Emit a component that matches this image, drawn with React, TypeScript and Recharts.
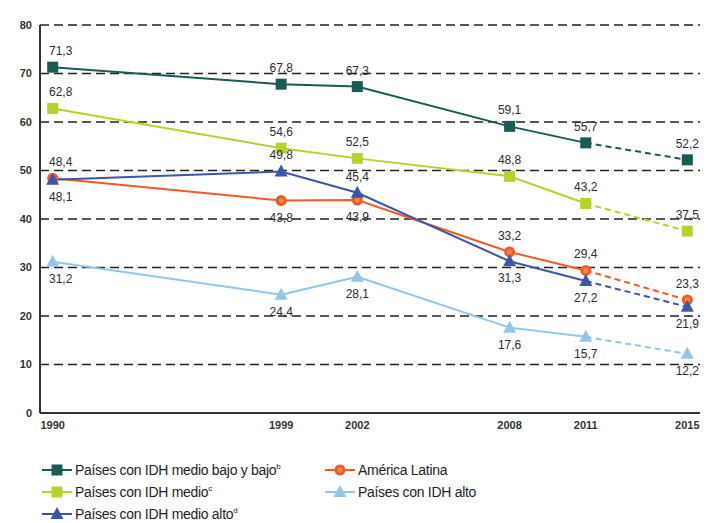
import { LineChart, Line, XAxis, YAxis, CartesianGrid } from "recharts";

const years = [1990, 1999, 2002, 2008, 2011, 2015];
const medioBajoBajo = [71.3, 67.8, 67.3, 59.1, 55.7, 52.2];
const medio = [62.8, 54.6, 52.5, 48.8, 43.2, 37.5];
const medioAlto = [48.1, 49.8, 45.4, 31.3, 27.2, 21.9];
const americaLatina = [48.4, 43.8, 43.9, 33.2, 29.4, 23.3];
const alto = [31.2, 24.4, 28.1, 17.6, 15.7, 12.2];
const yTicks = [0, 10, 20, 30, 40, 50, 60, 70, 80];

// index from which the projection (dashed) starts
const lastObserved = 4;

type Shape = "square" | "circle" | "triangle";

interface Series {
  key: string;
  name: string;
  sup: string;
  values: number[];
  color: string;
  shape: Shape;
  labelSide: ("up" | "down")[];
}

const series: Series[] = [
  {
    key: "alto",
    name: "Países con IDH alto",
    sup: "",
    values: alto,
    color: "#93c6e6",
    shape: "triangle",
    labelSide: ["down", "down", "down", "down", "down", "down"],
  },
  {
    key: "medio",
    name: "Países con IDH medio",
    sup: "c",
    values: medio,
    color: "#b7d22c",
    shape: "square",
    labelSide: ["up", "up", "up", "up", "up", "up"],
  },
  {
    key: "bajo",
    name: "Países con IDH medio bajo y bajo",
    sup: "b",
    values: medioBajoBajo,
    color: "#1c5a55",
    shape: "square",
    labelSide: ["up", "up", "up", "up", "up", "up"],
  },
  {
    key: "al",
    name: "América Latina",
    sup: "",
    values: americaLatina,
    color: "#f05a2a",
    shape: "circle",
    labelSide: ["up", "down", "down", "up", "up", "up"],
  },
  {
    key: "medioAlto",
    name: "Países con IDH medio alto",
    sup: "d",
    values: medioAlto,
    color: "#3c56a8",
    shape: "triangle",
    labelSide: ["down", "up", "up", "down", "down", "down"],
  },
];

const data = years.map((year, i) => {
  const row: Record<string, number | null> = { year };
  series.forEach((s) => {
    row[s.key + "_s"] = i <= lastObserved ? s.values[i] : null;
    row[s.key + "_d"] = i >= lastObserved ? s.values[i] : null;
  });
  return row;
});

const fmt = (v: number) => v.toFixed(1).replace(".", ",");

function Marker({ cx, cy, shape, color }: { cx: number; cy: number; shape: Shape; color: string }) {
  if (shape === "square") {
    return <rect x={cx - 5.5} y={cy - 5.5} width={11} height={11} fill={color} />;
  }
  if (shape === "circle") {
    return (
      <g>
        <circle cx={cx} cy={cy} r={5.5} fill={color} />
        <circle cx={cx} cy={cy} r={2.5} fill="#f7893f" />
      </g>
    );
  }
  return (
    <polygon
      points={`${cx},${cy - 7} ${cx - 6.5},${cy + 5} ${cx + 6.5},${cy + 5}`}
      fill={color}
    />
  );
}

function makeDot(s: Series, dashed: boolean) {
  return (props: any) => {
    const { cx, cy, index, value } = props;
    if (value == null || cx == null || cy == null) return <g key={`${s.key}-${dashed}-${index}`} />;
    if (dashed && index === lastObserved) return <g key={`${s.key}-d-${index}`} />;
    const up = s.labelSide[index] === "up";
    const dx = index === 0 ? 8 : 0;
    return (
      <g key={`${s.key}-${dashed ? "d" : "s"}-${index}`}>
        <Marker cx={cx} cy={cy} shape={s.shape} color={s.color} />
        <text
          x={cx + dx}
          y={up ? cy - 12 : cy + 21}
          textAnchor="middle"
          fontSize={12}
          fontFamily="'Liberation Sans', Arial, sans-serif"
          fill="#2b2b33"
        >
          {fmt(s.values[index])}
        </text>
      </g>
    );
  };
}

function LegendIcon({ s }: { s: Series }) {
  return (
    <svg width={30} height={14} style={{ marginRight: 3, flexShrink: 0 }}>
      <line x1={0} y1={7} x2={30} y2={7} stroke={s.color} strokeWidth={2} />
      <Marker cx={15} cy={7} shape={s.shape} color={s.color} />
    </svg>
  );
}

function LegendItem({ s }: { s: Series }) {
  return (
    <div style={{ display: "flex", alignItems: "center", height: 22 }}>
      <LegendIcon s={s} />
      <span>
        {s.name}
        {s.sup && <sup style={{ fontSize: 8 }}>{s.sup}</sup>}
      </span>
    </div>
  );
}

const byKey = (k: string) => series.find((s) => s.key === k)!;

export default function App() {
  return (
    <div style={{ width: 702, fontFamily: "'Liberation Sans', Arial, sans-serif" }}>
      <LineChart
        width={702}
        height={430}
        data={data}
        margin={{ top: 17, right: 10, bottom: 5, left: 2 }}
      >
        <CartesianGrid vertical={false} stroke="#222" strokeDasharray="9 5" strokeWidth={1.5} />
        <XAxis
          type="number"
          dataKey="year"
          domain={[1989.5, 2015.5]}
          ticks={years}
          height={20}
          tickLine={false}
          axisLine={{ stroke: "#333", strokeWidth: 2 }}
          tick={{ fontSize: 11, fill: "#333", fontWeight: "bold" }}
          interval={0}
        />
        <YAxis
          domain={[0, 80]}
          ticks={yTicks}
          width={30}
          tickLine={false}
          axisLine={{ stroke: "#333", strokeWidth: 2 }}
          tick={{ fontSize: 11, fill: "#333", fontWeight: "bold" }}
        />
        {series.map((s) => (
          <Line
            key={s.key + "_s"}
            dataKey={s.key + "_s"}
            stroke={s.color}
            strokeWidth={2}
            dot={makeDot(s, false)}
            activeDot={false}
            connectNulls={false}
            isAnimationActive={false}
          />
        ))}
        {series.map((s) => (
          <Line
            key={s.key + "_d"}
            dataKey={s.key + "_d"}
            stroke={s.color}
            strokeWidth={2}
            strokeDasharray="6 4"
            dot={makeDot(s, true)}
            activeDot={false}
            connectNulls={false}
            isAnimationActive={false}
          />
        ))}
      </LineChart>
      <div
        style={{
          display: "grid",
          gridTemplateColumns: "283px 300px",
          marginLeft: 34,
          marginTop: 21,
          fontSize: 14,
          color: "#1e1e26",
          letterSpacing: -0.3,
        }}
      >
        <LegendItem s={byKey("bajo")} />
        <LegendItem s={byKey("al")} />
        <LegendItem s={byKey("medio")} />
        <LegendItem s={byKey("alto")} />
        <LegendItem s={byKey("medioAlto")} />
      </div>
    </div>
  );
}
